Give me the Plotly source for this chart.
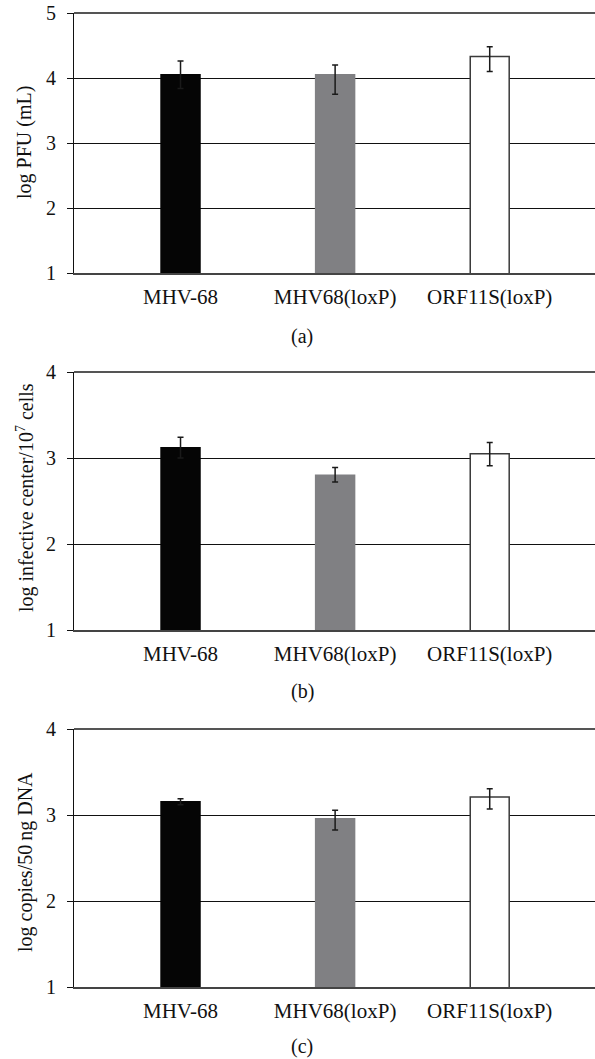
import plotly.graph_objects as go

categories = ["MHV-68", "MHV68(loxP)", "ORF11S(loxP)"]
bar_colors = ["#050505", "#808083", "#ffffff"]

# Panel (a): log PFU (mL)
a_values = [4.05, 4.05, 4.33]
a_err_plus = [0.21, 0.15, 0.15]
a_err_minus = [0.21, 0.30, 0.23]

# Panel (b): log infective center / 10^7 cells
b_values = [3.12, 2.80, 3.05]
b_err_plus = [0.12, 0.09, 0.13]
b_err_minus = [0.12, 0.08, 0.14]

# Panel (c): log copies / 50 ng DNA
c_values = [3.155, 2.955, 3.21]
c_err_plus = [0.035, 0.10, 0.095]
c_err_minus = [0.035, 0.13, 0.14]

y_titles = ["log PFU (mL)", "log infective center/10<sup>7</sup> cells", "log copies/50\u2009ng DNA"]
captions = ["(a)", "(b)", "(c)"]
y_ranges = [[1, 5], [1, 4], [1, 4]]

W, H = 595, 1059
FONT = "Liberation Serif"

# pixel geometry in window coordinates (top, bottom) of each plot area
px_rows = [(13, 273), (372, 630), (729, 987)]
caption_y = [336, 691, 1046]
title_cy = [143, 498, 862]
title_x = 25
caption_x = 302
x_left_px = 74


def fx(px):
    return px / W


def fy(py):
    return 1 - py / H


fig = go.Figure()
panels = [
    (a_values, a_err_plus, a_err_minus),
    (b_values, b_err_plus, b_err_minus),
    (c_values, c_err_plus, c_err_minus),
]
for i, (vals, ep, em) in enumerate(panels):
    sfx = "" if i == 0 else str(i + 1)
    fig.add_trace(go.Bar(
        x=categories, y=vals, base=0,
        marker=dict(color=bar_colors, line=dict(color=["#050505", "#808083", "#3a3a3a"], width=1.5)),
        width=0.252,
        error_y=dict(type="data", symmetric=False, array=ep, arrayminus=em,
                     color="#1a1a1a", thickness=1.5, width=3),
        xaxis="x" + sfx, yaxis="y" + sfx, showlegend=False,
    ))

layout = dict(
    template="none",
    width=W, height=H,
    margin=dict(l=0, r=0, t=0, b=0, pad=0),
    paper_bgcolor="white", plot_bgcolor="white",
    font=dict(family=FONT, size=20, color="#111111"),
    annotations=[],
    shapes=[],
)
for i in range(3):
    sfx = "" if i == 0 else str(i + 1)
    top, bot = px_rows[i]
    ydom = [fy(bot), fy(top)]
    layout["xaxis" + sfx] = dict(
        domain=[fx(x_left_px), 1], anchor="y" + sfx, automargin=False,
        type="category", range=[-0.689, 2.681],
        showline=True, linecolor="#444444", linewidth=1.8, mirror=False,
        showgrid=False, ticks="", ticklabelstandoff=4,
        tickfont=dict(family=FONT, size=21, color="#111111"),
    )
    layout["yaxis" + sfx] = dict(
        domain=ydom, anchor="x" + sfx, range=y_ranges[i], automargin=False,
        dtick=1, tick0=1,
        showline=True, linecolor="#111111", linewidth=1,
        showgrid=True, gridcolor="#111111", gridwidth=1,
        ticks="outside", ticklen=6, tickcolor="#111111", tickwidth=1,
        ticklabelstandoff=7, ticklabeloverflow="allow",
        tickfont=dict(family=FONT, size=20, color="#111111"),
        zeroline=False,
    )
    # darker top frame line of each plot area
    layout["shapes"].append(dict(
        type="line", xref="x" + sfx + " domain", yref="y" + sfx + " domain",
        x0=0, x1=1, y0=1, y1=1, line=dict(color="#555555", width=1.8), layer="above",
    ))
    layout["annotations"].append(dict(
        text=y_titles[i], xref="paper", yref="paper",
        x=fx(title_x), y=fy(title_cy[i]), textangle=-90,
        showarrow=False, xanchor="center", yanchor="middle",
        font=dict(family=FONT, size=20, color="#111111"),
    ))
    layout["annotations"].append(dict(
        text=captions[i], xref="paper", yref="paper",
        x=fx(caption_x), y=fy(caption_y[i]),
        showarrow=False, xanchor="center", yanchor="middle",
        font=dict(family=FONT, size=20, color="#111111"),
    ))

fig.update_layout(**layout)
fig.write_html(
    "out.html",
    config={"displayModeBar": False},
    post_script="document.body.style.margin='0';document.body.style.overflow='hidden';",
)
